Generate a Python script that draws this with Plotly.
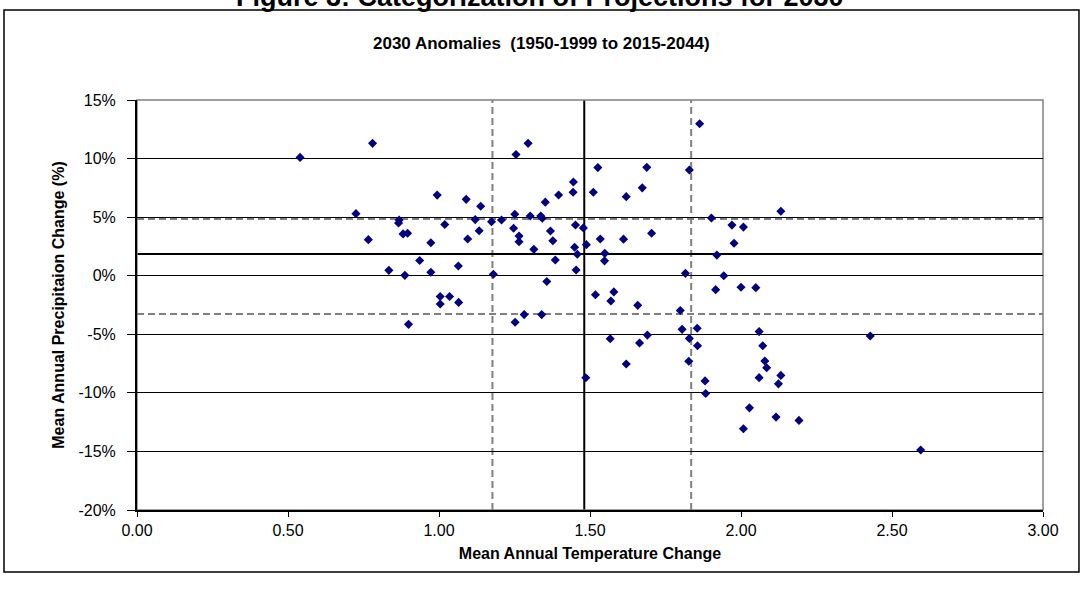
import plotly.graph_objects as go

# Mean annual temperature change (x) and precipitation change in % (y)
temp_change = [
    0.54, 0.78, 0.725, 0.766, 0.834, 0.868, 0.866, 0.881, 0.896, 0.887,
    0.899, 0.936, 0.973, 0.973, 0.994, 1.004, 1.035, 1.004, 1.019, 1.064,
    1.065, 1.090, 1.095, 1.120, 1.133, 1.138, 1.174, 1.180, 1.207, 1.251,
    1.247, 1.255, 1.252, 1.265, 1.265, 1.282, 1.295, 1.302, 1.314, 1.337,
    1.342, 1.340, 1.352, 1.357, 1.369, 1.377, 1.385, 1.396, 1.444, 1.445,
    1.452, 1.449, 1.458, 1.454, 1.478, 1.488, 1.486, 1.511, 1.526, 1.518,
    1.534, 1.549, 1.548, 1.567, 1.579, 1.569, 1.611, 1.620, 1.620, 1.658,
    1.664, 1.673, 1.688, 1.690, 1.704, 1.799, 1.805, 1.816, 1.827, 1.829,
    1.829, 1.855, 1.856, 1.863, 1.881, 1.883, 1.902, 1.916, 1.920, 1.943,
    1.970, 1.977, 2.000, 2.008, 2.008, 2.028, 2.049, 2.060, 2.060, 2.072,
    2.079, 2.085, 2.116, 2.124, 2.132, 2.132, 2.192, 2.428, 2.595,
]
precip_change = [
    10.1, 11.3, 5.3, 3.08, 0.46, 4.75, 4.5, 3.57, 3.62, 0.03,
    -4.15, 1.3, 2.82, 0.3, 6.88, -1.78, -1.78, -2.42, 4.37, 0.83,
    -2.28, 6.52, 3.13, 4.79, 3.84, 5.93, 4.61, 0.13, 4.76, 5.25,
    4.05, 10.35, -3.97, 3.39, 2.9, -3.32, 11.3, 5.1, 2.25, 5.1,
    4.9, -3.32, 6.28, -0.5, 3.82, 2.98, 1.34, 6.89, 7.13, 8.0,
    4.33, 2.43, 1.83, 0.49, 4.08, 2.65, -8.71, 7.12, 9.23, -1.63,
    3.13, 1.91, 1.27, -5.38, -1.38, -2.16, 3.12, 6.75, -7.54, -2.53,
    -5.75, 7.5, 9.25, -5.07, 3.62, -2.97, -4.58, 0.2, -7.3, 9.03,
    -5.35, -4.49, -5.98, 12.97, -8.98, -10.05, 4.93, -1.19, 1.76, 0.0,
    4.32, 2.77, -0.99, 4.15, -13.07, -11.28, -1.02, -4.77, -8.7, -5.98,
    -7.28, -7.86, -12.07, -9.23, 5.5, -8.51, -12.35, -5.15, -14.88,
]

# Reference lines (mean and category thresholds)
temp_mean = [1.481]
temp_bounds = [1.177, 1.835]
precip_mean = [1.85]
precip_bounds = [4.84, -3.27]

x_ticks = [0.0, 0.5, 1.0, 1.5, 2.0, 2.5, 3.0]
x_tick_labels = ["0.00", "0.50", "1.00", "1.50", "2.00", "2.50", "3.00"]
y_ticks = [-20, -15, -10, -5, 0, 5, 10, 15]
y_tick_labels = ["-20%", "-15%", "-10%", "-5%", "0%", "5%", "10%", "15%"]

FONT = "Arial, Liberation Sans, sans-serif"

fig = go.Figure()

shapes = []
for xv in temp_bounds:
    shapes.append(dict(type="line", xref="x", yref="paper", x0=xv, x1=xv, y0=0, y1=1,
                       line=dict(color="#808080", width=2, dash="7px,4px"), layer="below"))
for yv in precip_bounds:
    shapes.append(dict(type="line", xref="paper", yref="y", x0=0, x1=1, y0=yv, y1=yv,
                       line=dict(color="#808080", width=2, dash="7px,4px"), layer="below"))
for xv in temp_mean:
    shapes.append(dict(type="line", xref="x", yref="paper", x0=xv, x1=xv, y0=0, y1=1,
                       line=dict(color="black", width=2), layer="below"))
for yv in precip_mean:
    shapes.append(dict(type="line", xref="paper", yref="y", x0=0, x1=1, y0=yv, y1=yv,
                       line=dict(color="black", width=2), layer="below"))
# plot area border (gray)
shapes.append(dict(type="rect", xref="paper", yref="paper", x0=0, x1=1, y0=0, y1=1,
                   line=dict(color="#808080", width=1.5), layer="below"))
# outer chart border
shapes.append(dict(type="rect", xref="paper", yref="paper",
                   x0=-0.1468, x1=1.0397, y0=-0.1512, y1=1.2195,
                   line=dict(color="black", width=1.5)))

fig.add_trace(go.Scatter(
    x=temp_change, y=precip_change, mode="markers",
    marker=dict(symbol="diamond", size=7, color="#000080", line=dict(width=0)),
    showlegend=False, hoverinfo="x+y",
))

fig.update_layout(
    width=1084, height=598,
    margin=dict(l=137, r=41, t=100, b=88),
    paper_bgcolor="white", plot_bgcolor="white",
    font=dict(family=FONT, size=16, color="black"),
    shapes=shapes,
    annotations=[
        dict(text="<b>Figure 3: Categorization of Projections for 2030</b>",
             xref="paper", yref="paper", x=0.445, y=1.2512, xanchor="center", yanchor="middle",
             showarrow=False, font=dict(size=27, family=FONT, color="black")),
        dict(text="<b>2030 Anomalies  (1950-1999 to 2015-2044)</b>",
             xref="paper", yref="paper", x=0.447, y=1.139, xanchor="center", yanchor="middle",
             showarrow=False, font=dict(size=17, family=FONT, color="black")),
    ],
    xaxis=dict(
        range=[0, 3], tickvals=x_ticks, ticktext=x_tick_labels,
        showgrid=False, zeroline=False,
        showline=True, linecolor="black", linewidth=2,
        ticks="outside", ticklen=5, tickcolor="black", tickwidth=1,
        tickfont=dict(size=16),
        title=dict(text="<b>Mean Annual Temperature Change</b>", font=dict(size=16), standoff=10),
    ),
    yaxis=dict(
        range=[-20, 15], tickvals=y_ticks, ticktext=y_tick_labels,
        showgrid=True, gridcolor="black", gridwidth=1, zeroline=False,
        showline=True, linecolor="black", linewidth=2,
        ticks="outside", ticklen=8, tickcolor="black", tickwidth=1,
        ticklabelstandoff=8,
        tickfont=dict(size=16),
        title=dict(text="<b>Mean Annual Precipitaion Change (%)</b>", font=dict(size=16), standoff=10),
    ),
)

fig.write_html("out.html", config={"displayModeBar": False},
               post_script="document.body.style.margin='0';")
